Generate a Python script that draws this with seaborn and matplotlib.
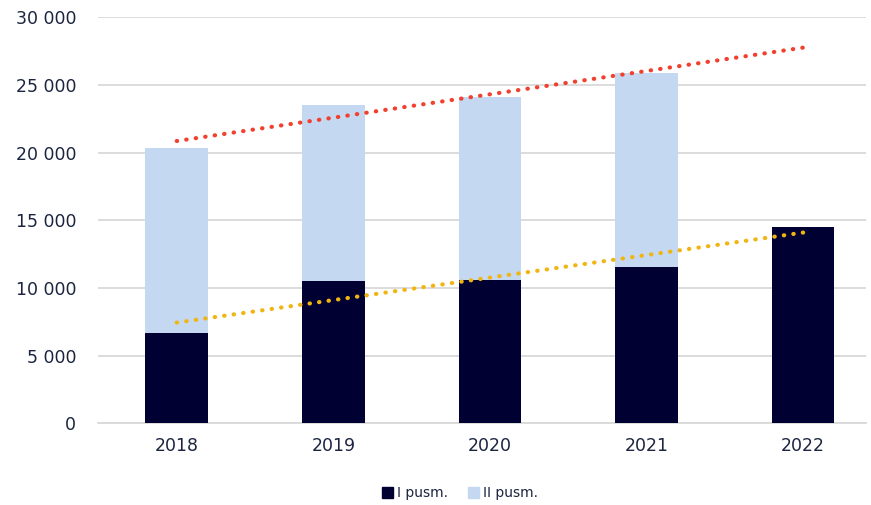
import numpy as np
import pandas as pd
import matplotlib
matplotlib.use("Agg")
import matplotlib.pyplot as plt
import seaborn as sns
from matplotlib.patches import Patch
from matplotlib.ticker import FuncFormatter

years = ["2018", "2019", "2020", "2021", "2022"]
first_half = [6700, 10500, 10570, 11530, 14500]
second_half = [13600, 13000, 13530, 14320, 0]
legend_labels = ["I pusm.", "II pusm."]

dark = "#000033"
light = "#c5d8f2"
text_col = "#1c2540"

totals = [a + b for a, b in zip(first_half, second_half)]
df = pd.DataFrame({"year": years, "first": first_half, "total": totals})

sns.set_theme(style="white")
plt.rcParams["font.family"] = ["DejaVu Sans"]

fig, ax = plt.subplots(figsize=(8.71, 5.05), dpi=100)
fig.subplots_adjust(left=0.113, right=0.994, top=0.966, bottom=0.162)

sns.barplot(data=df, x="year", y="total", color=light, width=0.4, ax=ax,
            saturation=1, linewidth=0, zorder=2)
sns.barplot(data=df, x="year", y="first", color=dark, width=0.4, ax=ax,
            saturation=1, linewidth=0, zorder=3)

# linear trendlines
xs = np.arange(len(years))
n_tot = 4  # totals known for 2018-2021
p_tot = np.polyfit(xs[:n_tot], totals[:n_tot], 1)
p_first = np.polyfit(xs, first_half, 1)
ax.plot(xs, np.polyval(p_tot, xs), color="#f2402e", lw=3,
        linestyle=(0, (0.1, 2.2)), dash_capstyle="round", zorder=4)
ax.plot(xs, np.polyval(p_first, xs), color="#f0b511", lw=3,
        linestyle=(0, (0.1, 2.2)), dash_capstyle="round", zorder=4)

ax.set_ylim(0, 30000)
ax.set_xlim(-0.5, 4.4)
ax.set_yticks(range(0, 30001, 5000))
ax.yaxis.set_major_formatter(FuncFormatter(lambda v, p: f"{int(v):,}".replace(",", " ")))
ax.grid(axis="y", color="#d9d9d9", lw=1.3, zorder=0)
ax.set_axisbelow(True)
ax.set_xlabel("")
ax.set_ylabel("")
for s in ["top", "right", "left"]:
    ax.spines[s].set_visible(False)
ax.spines["bottom"].set_color("#d9d9d9")
ax.spines["bottom"].set_linewidth(1.3)
ax.tick_params(axis="both", length=0, labelsize=12.5, colors=text_col, pad=10)
ax.tick_params(axis="y", pad=16)

handles = [Patch(color=dark), Patch(color=light)]
fig.legend(handles, legend_labels, loc="lower center", ncol=2, frameon=False,
           bbox_to_anchor=(0.528, -0.015), fontsize=10, handlelength=0.8,
           handleheight=0.8, handletextpad=0.3, columnspacing=1.4,
           labelcolor=text_col)

fig.savefig("out.png", dpi=100)
